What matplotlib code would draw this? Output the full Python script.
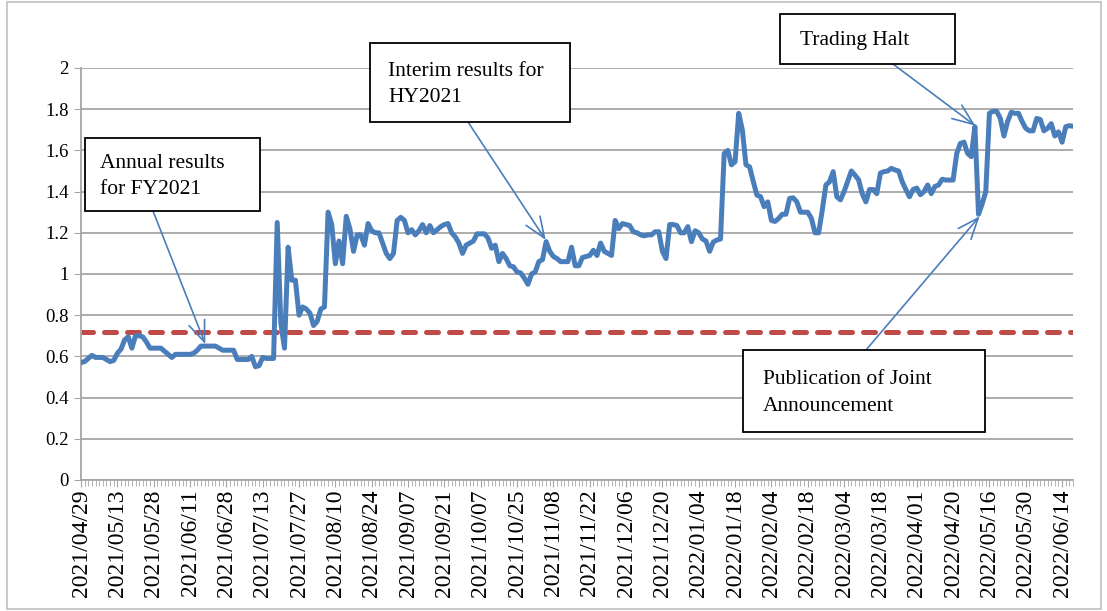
import matplotlib
matplotlib.use("Agg")
import matplotlib.pyplot as plt
from matplotlib.patches import Rectangle
import numpy as np

plt.rcParams['font.family'] = ['Liberation Serif', 'DejaVu Serif']

# daily price (HK$), one value per trading day
price = [
    0.57, 0.575, 0.59, 0.605, 0.595, 0.595, 0.595, 0.585, 0.575, 0.58,
    0.615, 0.635, 0.68, 0.695, 0.64, 0.70, 0.70, 0.695, 0.67, 0.64,
    0.64, 0.64, 0.64, 0.625, 0.61, 0.595, 0.61, 0.61, 0.61,
    0.61, 0.61, 0.615, 0.63, 0.65, 0.65, 0.65, 0.65, 0.65, 0.64,
    0.63, 0.63, 0.63, 0.63, 0.585, 0.585, 0.585, 0.585, 0.60,
    0.55, 0.555, 0.595, 0.59, 0.59, 0.59, 1.25, 0.76, 0.64, 1.13,
    0.97, 0.97, 0.80, 0.84, 0.83, 0.81, 0.75, 0.77, 0.83,
    0.84, 1.30, 1.24, 1.05, 1.16, 1.05, 1.28, 1.22, 1.11, 1.19,
    1.19, 1.14, 1.245, 1.21, 1.20, 1.20, 1.15, 1.10, 1.075, 1.10,
    1.26, 1.275, 1.26, 1.20, 1.215, 1.19, 1.21, 1.24, 1.20,
    1.235, 1.20, 1.215, 1.23, 1.24, 1.245, 1.20, 1.18, 1.15, 1.10,
    1.14, 1.15, 1.16, 1.195, 1.195, 1.195, 1.175, 1.125, 1.14, 1.06,
    1.10, 1.075, 1.04, 1.035, 1.01, 1.005, 0.98, 0.95, 1.0,
    1.01, 1.06, 1.07, 1.157, 1.11, 1.085, 1.075, 1.06, 1.06, 1.06,
    1.13, 1.04, 1.04, 1.08, 1.085, 1.09, 1.115, 1.09, 1.15, 1.11,
    1.10, 1.09, 1.26, 1.22, 1.245, 1.24, 1.235, 1.205, 1.20,
    1.19, 1.185, 1.19, 1.19, 1.205, 1.205, 1.11, 1.075, 1.24, 1.24,
    1.235, 1.20, 1.20, 1.23, 1.157, 1.21, 1.20, 1.17, 1.16,
    1.11, 1.155, 1.165, 1.17, 1.585, 1.60, 1.53, 1.545, 1.78, 1.70,
    1.53, 1.52, 1.45, 1.383, 1.376, 1.327, 1.35, 1.26, 1.255, 1.27,
    1.29, 1.29, 1.367, 1.37, 1.35, 1.30, 1.30, 1.30, 1.27, 1.20,
    1.20, 1.31, 1.432, 1.448, 1.497, 1.375, 1.36, 1.40, 1.45,
    1.50, 1.48, 1.457, 1.39, 1.35, 1.41, 1.41, 1.39, 1.49, 1.497,
    1.50, 1.513, 1.505, 1.50, 1.448, 1.41, 1.375, 1.41, 1.417,
    1.385, 1.40, 1.432, 1.39, 1.425, 1.432, 1.46, 1.456, 1.456, 1.456,
    1.585, 1.634, 1.64, 1.585, 1.57, 1.715, 1.29, 1.34, 1.40, 1.78,
    1.79, 1.79, 1.755, 1.67, 1.74, 1.785, 1.78, 1.78, 1.74,
    1.707, 1.695, 1.695, 1.755, 1.75, 1.695, 1.707, 1.73, 1.67, 1.69,
    1.64, 1.715, 1.72, 1.717,
]
threshold = 0.72

date_labels = [
    "2021/04/29", "2021/05/13", "2021/05/28", "2021/06/11", "2021/06/28",
    "2021/07/13", "2021/07/27", "2021/08/10", "2021/08/24", "2021/09/07",
    "2021/09/21", "2021/10/07", "2021/10/25", "2021/11/08", "2021/11/22",
    "2021/12/06", "2021/12/20", "2022/01/04", "2022/01/18", "2022/02/04",
    "2022/02/18", "2022/03/04", "2022/03/18", "2022/04/01", "2022/04/20",
    "2022/05/16", "2022/05/30", "2022/06/14",
]
label_step = 10

# events: text, (day index, price) that the arrow points at
events = [
    ("Annual results\nfor FY2021", 34.2, 0.66),
    ("Interim results for\nHY2021", 127.9, 1.165),
    ("Trading Halt", 246.1, 1.72),
    ("Publication of Joint\nAnnouncement", 247.3, 1.28),
]

W, H = 1107, 611
fig = plt.figure(figsize=(W / 100, H / 100), dpi=100)

def fx(px):
    return px / W

def fy(py):
    return 1 - py / H

ax = fig.add_axes([fx(81), fy(480), fx(1073) - fx(81), fy(68) - fy(480)])

x = np.arange(len(price))
ax.plot(x, price, color='#4a7ebb', lw=3.6, solid_joinstyle='round', zorder=3)
ax.plot(x, [threshold] * len(x), color='#be4b48', lw=3.6,
        linestyle=(0, (2.4, 2.2)), dash_capstyle='round', zorder=2)

ax.set_xlim(0, len(price) - 1)
ax.set_ylim(0, 2)
ax.set_yticks(np.arange(0, 2.01, 0.2))
ax.set_yticklabels(["0", "0.2", "0.4", "0.6", "0.8", "1", "1.2", "1.4", "1.6", "1.8", "2"])
ax.set_xticks(np.arange(0, len(date_labels) * label_step, label_step))
ax.set_xticklabels(date_labels, rotation=90)
ax.set_xticks(x, minor=True)

ax.grid(axis='y', color='#a6a6a6', lw=1.3)
ax.set_axisbelow(True)
for s in ['top', 'right']:
    ax.spines[s].set_visible(False)
for s in ['left', 'bottom']:
    ax.spines[s].set_color('#a6a6a6')
    ax.spines[s].set_linewidth(1.3)

ax.tick_params(axis='both', which='both', color='#a6a6a6', direction='out')
ax.tick_params(axis='x', which='major', length=5, pad=2, labelsize=17)
ax.tick_params(axis='x', which='minor', length=4)
ax.tick_params(axis='y', length=5, pad=4, labelsize=13.5)

# boxes (left, top, right, bottom in pixels) and arrow start points
boxes = [(85, 138, 260, 211), (370, 43, 570, 122), (780, 14, 955, 64), (743, 350, 985, 432)]
starts = [(153, 211), (468, 122), (893, 64), (866, 350)]
text_left = [100, 388, 800, 763]

for (txt, xi, yv), (l, t, r, b), (sx, sy), tl in zip(events, boxes, starts, text_left):
    ax.annotate('', xy=(xi, yv), xycoords='data',
                xytext=(fx(sx), fy(sy)), textcoords='figure fraction',
                arrowprops=dict(arrowstyle='->,head_length=0.75,head_width=0.3',
                                color='#4a7ebb', lw=1.2, mutation_scale=20,
                                shrinkA=0, shrinkB=0),
                zorder=4)
    rect = Rectangle((fx(l), fy(b)), fx(r) - fx(l), fy(t) - fy(b),
                     transform=fig.transFigure, facecolor='white',
                     edgecolor='black', lw=1.3, zorder=5)
    fig.add_artist(rect)
    fig.text(fx(tl), fy((t + b) / 2 + 2), txt, ha='left', va='center',
             fontsize=15.5, linespacing=1.55, zorder=6)

# chart area border
fig.add_artist(Rectangle((0.006, 0.003), 0.989, 0.994, transform=fig.transFigure,
                         facecolor='none', edgecolor='#bfbfbf', lw=1.2))

fig.savefig("out.png", dpi=100)
